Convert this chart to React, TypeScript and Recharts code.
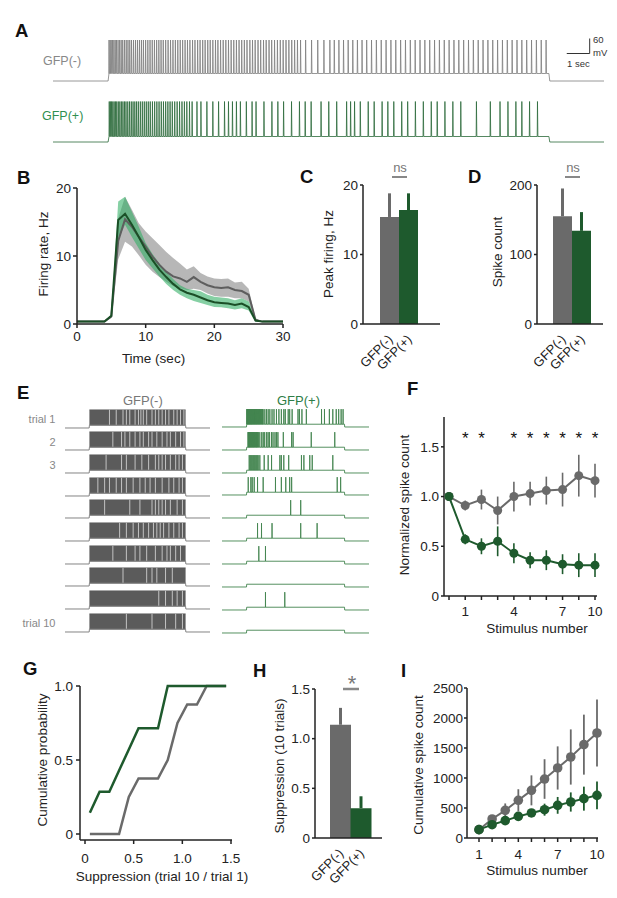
import React from 'react';
import {
  ComposedChart, LineChart, Line, Area, Bar, Cell, XAxis, YAxis, ErrorBar, Scatter, ReferenceLine,
} from 'recharts';

const FONT = '"Liberation Sans", Arial, Helvetica, sans-serif';
const GRAY = '#6a6a6a';
const GREEN = '#1e5a2d';
const AX = { stroke: '#222', strokeWidth: 1.5 };
const TICK = { fontSize: 13.5, fill: '#222', fontFamily: FONT };

// ---------------- Panel A : example traces (spike times, s) ----------------
const aGraySpikes = [
  5.03, 5.08, 5.13, 5.19, 5.25, 5.31, 5.37, 5.44, 5.51, 5.58, 5.65, 5.73, 5.81, 5.89, 5.97, 6.05, 6.14, 6.23, 6.32, 6.41,
  6.5, 6.59, 6.69, 6.79, 6.89, 6.99, 7.09, 7.19, 7.29, 7.39, 7.49, 7.6, 7.71, 7.82, 7.93, 8.04, 8.15, 8.26, 8.37, 8.48,
  8.59, 8.7, 8.82, 8.93, 9.05, 9.16, 9.28, 9.39, 9.51, 9.62, 9.74, 9.86, 9.97, 10.09, 10.21, 10.33, 10.45, 10.57, 10.69,
  10.81, 10.93, 11.05, 11.17, 11.29, 11.42, 11.54, 11.66, 11.79, 11.91, 12.04, 12.16, 12.29, 12.41, 12.54, 12.67, 12.8,
  12.93, 13.06, 13.19, 13.32, 13.45, 13.58, 13.72, 13.95, 14.22, 14.5, 14.78, 15.05, 15.25, 15.46, 15.67, 15.88, 16.09,
  16.3, 16.51, 16.72, 16.94, 17.16, 17.38, 17.6, 17.82, 18.04, 18.26, 18.48, 18.7, 18.92, 19.14, 19.36, 19.58, 19.8,
  20.02, 20.24, 20.46, 20.68, 20.9, 21.12, 21.34, 21.56, 21.78, 22.0, 22.22, 22.44, 22.66, 22.88, 23.1, 23.32, 23.54,
  23.76, 23.98, 24.2, 24.42, 24.64, 24.86,
];
const aGreenSpikes = [
  5.04, 5.09, 5.14, 5.2, 5.26, 5.32, 5.38, 5.45, 5.52, 5.59, 5.66, 5.73, 5.8, 5.88, 5.96, 6.04, 6.12, 6.2, 6.28, 6.36,
  6.45, 6.54, 6.63, 6.72, 6.81, 6.9, 7.0, 7.1, 7.2, 7.3, 7.4, 7.5, 7.6, 7.7, 7.8, 7.9, 8.01, 8.12, 8.23, 8.34, 8.45,
  8.56, 8.68, 8.8, 9.02, 9.2, 9.47, 9.74, 10.0, 10.27, 10.45, 10.63, 10.81, 10.99, 11.26, 11.52, 11.7, 12.06, 12.42,
  12.69, 12.95, 13.31, 13.67, 13.93, 14.2, 14.65, 15.0, 15.36, 15.81, 15.99, 16.17, 16.43, 16.79, 17.06, 17.42, 17.68,
  17.95, 18.31, 18.58, 18.93, 19.29, 19.65, 19.92, 20.27, 20.63, 20.99, 21.7, 22.33, 22.77, 23.13, 23.49, 23.76, 24.11,
  24.47,
];
const aGrayLevels = { base: -70, floor: -40, peak: 94 };
const aGreenLevels = { base: -70, floor: -48, peak: 92 };
const aWindow = [2.5, 27.5];
const stimOn = 5;
const stimOff = 25;

// ---------------- Panel B : firing rate ----------------
const bTime = [0, 1, 2, 3, 4, 5, 6, 7, 8, 9, 10, 11, 12, 13, 14, 15, 16, 17, 18, 19, 20, 21, 22, 23, 24, 25, 26, 27, 28, 29, 30];
const bGrayMean = [0.35, 0.35, 0.35, 0.35, 0.35, 1.1, 12.2, 15.4, 14.3, 12.8, 11.4, 9.9, 8.7, 7.7, 7.0, 6.7, 6.2, 6.9, 6.2, 5.7, 5.4, 5.3, 5.4, 5.0, 4.85, 4.3, 0.6, 0.35, 0.35, 0.35, 0.35];
const bGrayLow = [0.3, 0.3, 0.3, 0.3, 0.3, 0.9, 9.5, 12.1, 11.4, 10.1, 8.7, 7.7, 6.9, 6.2, 5.6, 5.3, 5.0, 5.2, 5.0, 4.5, 4.1, 4.0, 4.0, 3.8, 3.8, 3.3, 0.35, 0.3, 0.3, 0.3, 0.3];
const bGrayHigh = [0.4, 0.4, 0.4, 0.4, 0.4, 1.3, 15.5, 18.7, 16.8, 14.8, 13.6, 12.6, 11.6, 10.6, 9.7, 8.9, 8.0, 8.5, 7.5, 7.0, 6.7, 6.6, 6.7, 6.1, 6.2, 5.2, 0.8, 0.4, 0.4, 0.4, 0.4];
const bGreenMean = [0.35, 0.35, 0.35, 0.35, 0.35, 1.2, 15.3, 16.2, 14.6, 12.8, 10.9, 9.4, 8.0, 6.9, 5.9, 5.1, 4.6, 4.3, 3.9, 3.5, 3.2, 3.1, 3.0, 2.8, 3.0, 2.5, 0.5, 0.35, 0.35, 0.35, 0.35];
const bGreenLow = [0.3, 0.3, 0.3, 0.3, 0.3, 1.0, 12.5, 14.6, 12.8, 11.1, 9.4, 8.2, 7.0, 5.9, 5.0, 4.3, 3.8, 3.4, 3.1, 2.8, 2.5, 2.45, 2.3, 2.15, 2.3, 2.0, 0.3, 0.3, 0.3, 0.3, 0.3];
const bGreenHigh = [0.4, 0.4, 0.4, 0.4, 0.4, 1.4, 18.0, 18.7, 16.5, 14.3, 11.9, 10.3, 8.9, 7.7, 6.6, 5.7, 5.2, 5.0, 4.8, 4.3, 4.0, 3.9, 3.8, 3.5, 3.8, 3.3, 0.7, 0.4, 0.4, 0.4, 0.4];
const bXTicks = [0, 10, 20, 30];
const bYTicks = [0, 10, 20];

// ---------------- Panels C, D, H : bars ----------------
const groups = ['GFP(-)', 'GFP(+)'];
const peakValues = [15.4, 16.4];
const peakErrors = [3.4, 2.4];
const countValues = [155, 134];
const countErrors = [40, 27];
const suppValues = [1.14, 0.3];
const suppErrors = [0.17, 0.12];

// ---------------- Panel E : rasters ----------------
const grayTrialGaps = [
  [9.2, 10.6, 12.0, 12.7, 13.4, 14.5, 15.2, 15.7, 16.2, 16.9, 18.0, 18.7, 19.4, 20.1, 20.8, 21.5, 22.5, 23.2, 23.9, 24.6],
  [9.9, 11.7, 12.4, 13.4, 14.5, 15.5, 16.2, 17.3, 18.0, 19.0, 20.1, 21.1, 21.8, 22.9, 23.9, 24.6],
  [8.5, 11.7, 12.7, 14.5, 15.9, 17.3, 18.7, 19.4, 20.1, 20.8, 21.8, 22.9, 23.6, 24.3],
  [6.8, 8.2, 9.2, 10.6, 11.7, 12.7, 14.1, 15.5, 16.6, 17.6, 18.7, 20.1, 21.5, 22.5, 23.6, 24.3],
  [8.2, 13.4, 15.5, 18.0, 18.7, 19.4, 20.1, 20.8, 21.8, 23.2, 24.3],
  [11.3, 12.7, 14.1, 15.2, 16.2, 17.3, 18.3, 19.0, 19.7, 20.4, 21.5, 22.5, 23.6, 24.3],
  [9.9, 12.7, 14.5, 15.5, 16.9, 18.7, 20.1, 21.1, 21.8, 22.9, 23.9],
  [12.0, 16.9, 18.0, 19.0, 20.8, 22.2],
  [19.4, 20.8, 22.2, 23.2, 24.3],
  [12.7, 18.0, 20.8, 22.9, 24.3],
];
const greenTrialSpikes = [
  [5.05, 5.12, 5.19, 5.26, 5.33, 5.4, 5.48, 5.56, 5.64, 5.72, 5.8, 5.88, 5.96, 6.04, 6.13, 6.22, 6.31, 6.4, 6.5, 6.6,
    6.7, 6.8, 6.9, 7.0, 7.1, 7.2, 7.31, 7.42, 7.53, 7.64, 7.76, 7.88, 8.0, 8.12, 8.25, 8.38, 8.73, 9.07, 9.41, 9.75,
    10.2, 10.6, 11.1, 11.6, 12.1, 12.6, 12.9, 13.5, 13.8, 14.3, 15.5, 15.8, 16.3, 17.2, 20.3, 20.9, 21.9, 22.6, 23.3,
    23.8, 24.3, 24.7],
  [5.3, 5.38, 5.46, 5.54, 5.62, 5.7, 5.8, 5.9, 6.0, 6.1, 6.2, 6.3, 6.42, 6.54, 6.66, 6.78, 6.9, 7.02, 7.15, 7.28, 7.4,
    7.7, 8.1, 8.4, 8.7, 9.1, 9.4, 9.7, 10.1, 10.4, 10.8, 11.1, 11.4, 12.5, 14.2, 14.5, 18.2, 23.0],
  [5.54, 5.75, 5.95, 6.15, 6.36, 6.56, 6.76, 6.97, 7.17, 7.37, 7.71, 8.6, 9.41, 10.1, 11.8, 12.1, 12.6, 13.6, 16.2,
    16.7, 17.9, 18.4, 22.6],
  [5.34, 5.88, 6.15, 6.56, 7.24, 8.39, 10.9, 12.1, 13.0, 13.8, 14.2, 23.5, 24.2],
  [14.0, 16.05],
  [7.24, 8.05, 10.2, 16.05, 19.4],
  [7.5, 8.86],
  [],
  [8.86, 12.8],
  [],
];
const eLevels = { base: -70, floor: -48, peak: 75 };
const eGreenLevels = { base: -70, floor: -48, peak: 72 };
const eWindow = [0, 30];
const trialLabels = ['trial 1', '2', '3', '', '', '', '', '', '', 'trial 10'];

// ---------------- Panel F : normalized spike count ----------------
const fIdx = [0, 1, 2, 3, 4, 5, 6, 7, 8, 9];
const fTickLabels = ['', '1', '', '', '4', '', '', '7', '', '10'];
const fGray = [1.0, 0.91, 0.97, 0.86, 1.0, 1.03, 1.06, 1.07, 1.21, 1.16];
const fGrayErr = [0, 0.05, 0.1, 0.14, 0.15, 0.12, 0.14, 0.17, 0.21, 0.17];
const fGreen = [1.0, 0.57, 0.5, 0.55, 0.43, 0.36, 0.36, 0.32, 0.31, 0.31];
const fGreenErr = [0, 0.05, 0.08, 0.15, 0.1, 0.08, 0.1, 0.1, 0.12, 0.12];
const fSigIdx = [1, 2, 4, 5, 6, 7, 8, 9];
const fStarLevel = 1.62;

// ---------------- Panel G : cumulative distributions ----------------
const gX = [0.05, 0.15, 0.25, 0.35, 0.45, 0.55, 0.65, 0.75, 0.85, 0.95, 1.05, 1.15, 1.25, 1.35, 1.45];
const gGreen = [0.143, 0.286, 0.286, 0.429, 0.571, 0.714, 0.714, 0.714, 1, 1, 1, 1, 1, 1, 1];
const gGray = [0, 0, 0, 0, 0.25, 0.375, 0.375, 0.375, 0.5, 0.75, 0.875, 0.875, 1, 1, 1];

// ---------------- Panel I : cumulative spike count ----------------
const iStim = [1, 2, 3, 4, 5, 6, 7, 8, 9, 10];
const iGray = [139, 317, 461, 628, 794, 983, 1167, 1350, 1556, 1750];
const iGrayErr = [20, 60, 115, 185, 250, 330, 360, 460, 500, 560];
const iGreen = [139, 222, 289, 361, 417, 472, 544, 600, 656, 711];
const iGreenErr = [15, 30, 40, 50, 65, 100, 140, 160, 200, 230];

// ---------------- helpers ----------------
function buildTrace(spikes: number[], lv: any, t0: number, t1: number) {
  const pts: any[] = [{ t: t0, v: lv.base }, { t: stimOn, v: lv.base }, { t: stimOn + 0.04, v: lv.floor }];
  spikes.forEach((s) => {
    pts.push({ t: s, v: lv.floor }, { t: s + 0.012, v: lv.peak }, { t: s + 0.03, v: lv.floor });
  });
  pts.push({ t: stimOff, v: lv.floor }, { t: stimOff + 0.04, v: lv.base }, { t: t1, v: lv.base });
  return pts;
}
function buildBlock(lv: any, t0: number, t1: number) {
  return [
    { t: t0, v: lv.base }, { t: stimOn, v: lv.base },
    { t: stimOn + 0.05, v: lv.floor, blk: [lv.floor, lv.peak] },
    { t: stimOff - 0.05, v: lv.floor, blk: [lv.floor, lv.peak] },
    { t: stimOff, v: lv.base }, { t: t1, v: lv.base },
  ];
}
function place(px0: number, px1: number, py0: number, py1: number, yW: number, xH: number, mt: number, mr: number) {
  return {
    left: px0 - yW, top: py0 - mt, width: yW + (px1 - px0) + mr, height: mt + (py1 - py0) + xH,
    margin: { top: mt, right: mr, bottom: 0, left: 0 },
  };
}
const fmt1 = (v: number) => (v === 0 ? '0' : v.toFixed(1));

const RotTick = (props: any) => {
  const { x, y, payload } = props;
  const ax = x + 1;
  const ay = y + 13;
  return (
    <text x={ax} y={ay} transform={`rotate(-45 ${ax} ${ay})`} textAnchor="end" dominantBaseline="central"
      fontSize={13} fill="#222" fontFamily={FONT}>{payload.value}</text>
  );
};
const Star = (p: any) => (
  <text x={p.cx} y={p.cy + 9.5} textAnchor="middle" fontSize={17} fill="#111" fontFamily={FONT}>*</text>
);

function barRows(values: number[], errors: number[]) {
  return groups.map((name, i) => ({
    name,
    value: values[i],
    errGray: i === 0 ? [0, errors[i]] : undefined,
    errGreen: i === 1 ? [0, errors[i]] : undefined,
  }));
}

function BarPanel({ box, rows, domain, ticks, padding, fmt }: any) {
  return (
    <div style={{ position: 'absolute', left: box.left, top: box.top }}>
      <ComposedChart width={box.width} height={box.height} margin={box.margin} data={rows} barCategoryGap={0}>
        <XAxis dataKey="name" type="category" padding={padding} axisLine={AX} tickLine={false} tickSize={0}
          tickMargin={0} interval={0} tick={<RotTick />} height={55} />
        <YAxis type="number" domain={domain} ticks={ticks} allowDataOverflow axisLine={AX} tickLine={AX}
          tickSize={3} tickMargin={2} tick={TICK} width={36} tickFormatter={fmt} />
        <Bar dataKey="value" isAnimationActive={false}>
          {rows.map((r: any, i: number) => <Cell key={r.name} fill={i === 0 ? GRAY : GREEN} />)}
          <ErrorBar dataKey="errGray" width={0} stroke={GRAY} strokeWidth={3} isAnimationActive={false} />
          <ErrorBar dataKey="errGreen" width={0} stroke={GREEN} strokeWidth={3} isAnimationActive={false} />
        </Bar>
      </ComposedChart>
    </div>
  );
}

function VText({ x, y, children, size = 13.5 }: any) {
  return (
    <text x={x} y={y} transform={`rotate(-90 ${x} ${y})`} textAnchor="middle" dominantBaseline="central"
      fontSize={size} fill="#222" fontFamily={FONT}>{children}</text>
  );
}

export default function App() {
  const aGrayTrace = buildTrace(aGraySpikes, aGrayLevels, aWindow[0], aWindow[1]);
  const aGreenTrace = buildTrace(aGreenSpikes, aGreenLevels, aWindow[0], aWindow[1]);

  const bRows = bTime.map((t, i) => ({
    t, gray: bGrayMean[i], green: bGreenMean[i],
    grayBand: [bGrayLow[i], bGrayHigh[i]], greenBand: [bGreenLow[i], bGreenHigh[i]],
  }));
  const fRows = fIdx.map((x, i) => ({ x, gray: fGray[i], green: fGreen[i], grayErr: fGrayErr[i], greenErr: fGreenErr[i] }));
  const fStars = fSigIdx.map((x) => ({ x, y: fStarLevel }));
  const gRows = gX.map((x, i) => ({ x, green: gGreen[i], gray: gGray[i] }));
  const iRows = iStim.map((x, i) => ({ x, gray: iGray[i], green: iGreen[i], grayErr: iGrayErr[i], greenErr: iGreenErr[i] }));

  const B = place(77, 283, 188.3, 324.3, 40, 25, 8, 12);
  const C = place(363, 440, 185, 324, 36, 55, 8, 6);
  const D = place(537, 603, 185, 324, 36, 55, 8, 6);
  const F = place(444, 597, 417, 596, 40, 25, 6, 8);
  const G = place(80, 232, 686, 840, 40, 25, 8, 10);
  const H = place(315, 382, 689, 838, 36, 55, 8, 6);
  const I = place(467, 598, 688, 838, 44, 25, 8, 10);

  const letters = [
    ['A', 15, 37], ['B', 17, 184], ['C', 300, 183], ['D', 468, 183], ['E', 17, 399],
    ['F', 407, 395], ['G', 23, 675], ['H', 253, 677], ['I', 401, 677],
  ];

  return (
    <div style={{ position: 'absolute', left: 0, top: 0, width: 617, height: 898, background: '#fff', fontFamily: FONT, overflow: 'hidden' }}>
      {/* Panel A */}
      <div style={{ position: 'absolute', left: 53, top: 30.5 }}>
        <LineChart width={551} height={60} data={aGrayTrace} margin={{ top: 0, right: 0, bottom: 0, left: 0 }}>
          <XAxis type="number" dataKey="t" domain={aWindow} hide allowDataOverflow />
          <YAxis type="number" domain={[-110, 130]} hide allowDataOverflow />
          <Line dataKey="v" stroke="#7d7d7d" strokeWidth={0.8} dot={false} isAnimationActive={false} />
          <ReferenceLine segment={[{ x: 25.81, y: 40 }, { x: 26.85, y: 40 }]} stroke="#333" strokeWidth={1} />
          <ReferenceLine segment={[{ x: 26.85, y: 40 }, { x: 26.85, y: 100 }]} stroke="#333" strokeWidth={1} />
        </LineChart>
      </div>
      <div style={{ position: 'absolute', left: 53, top: 91.5 }}>
        <LineChart width={551} height={60} data={aGreenTrace} margin={{ top: 0, right: 0, bottom: 0, left: 0 }}>
          <XAxis type="number" dataKey="t" domain={aWindow} hide allowDataOverflow />
          <YAxis type="number" domain={[-110, 130]} hide allowDataOverflow />
          <Line dataKey="v" stroke="#2b6a3a" strokeWidth={0.8} dot={false} isAnimationActive={false} />
        </LineChart>
      </div>

      {/* Panel B */}
      <div style={{ position: 'absolute', left: B.left, top: B.top }}>
        <ComposedChart width={B.width} height={B.height} margin={B.margin} data={bRows}>
          <XAxis type="number" dataKey="t" domain={[0, 30]} ticks={bXTicks} axisLine={AX} tickLine={AX}
            tickSize={4} tickMargin={3.5} tick={TICK} height={25} />
          <YAxis type="number" domain={[0, 20]} ticks={bYTicks} axisLine={AX} tickLine={AX}
            tickSize={4} tickMargin={2} tick={TICK} width={40} />
          <Area dataKey="grayBand" stroke="none" fill="#8a8a8a" fillOpacity={0.62} isAnimationActive={false} />
          <Area dataKey="greenBand" stroke="none" fill="#2fae62" fillOpacity={0.58} isAnimationActive={false} />
          <Line dataKey="gray" stroke="#5e5e5e" strokeWidth={2} dot={false} isAnimationActive={false} />
          <Line dataKey="green" stroke="#1b4f27" strokeWidth={2} dot={false} isAnimationActive={false} />
        </ComposedChart>
      </div>

      {/* Panels C, D */}
      <BarPanel box={C} rows={barRows(peakValues, peakErrors)} domain={[0, 20]} ticks={[0, 10, 20]} padding={{ left: 17, right: 22 }} />
      <BarPanel box={D} rows={barRows(countValues, countErrors)} domain={[0, 200]} ticks={[0, 100, 200]} padding={{ left: 16, right: 12 }} />

      {/* Panel E */}
      {grayTrialGaps.map((gaps, i) => (
        <div key={`g${i}`} style={{ position: 'absolute', left: 65, top: 427.7 + i * 22.67 - 19 }}>
          <ComposedChart width={145} height={21} data={buildBlock(eLevels, eWindow[0], eWindow[1])} margin={{ top: 0, right: 0, bottom: 0, left: 0 }}>
            <XAxis type="number" dataKey="t" domain={eWindow} hide allowDataOverflow />
            <YAxis type="number" domain={[-86, 81]} hide allowDataOverflow />
            <Area dataKey="blk" stroke="#5b5b5b" strokeWidth={0.5} fill="#5b5b5b" fillOpacity={1} isAnimationActive={false} />
            <Line dataKey="v" stroke="#858585" strokeWidth={1} dot={false} isAnimationActive={false} />
            {gaps.map((t) => (
              <ReferenceLine key={t} segment={[{ x: t, y: eLevels.floor + 4 }, { x: t, y: eLevels.peak }]} stroke="#cfcfcf" strokeWidth={0.9} />
            ))}
          </ComposedChart>
        </div>
      ))}
      {greenTrialSpikes.map((sp, i) => (
        <div key={`e${i}`} style={{ position: 'absolute', left: 221.5, top: 426.7 + i * 22.93 - 19 }}>
          <LineChart width={147} height={21} data={buildTrace(sp, eGreenLevels, eWindow[0], eWindow[1])} margin={{ top: 0, right: 0, bottom: 0, left: 0 }}>
            <XAxis type="number" dataKey="t" domain={eWindow} hide allowDataOverflow />
            <YAxis type="number" domain={[-86, 81]} hide allowDataOverflow />
            <Line dataKey="v" stroke="#43844f" strokeWidth={0.9} dot={false} isAnimationActive={false} />
          </LineChart>
        </div>
      ))}

      {/* Panel F */}
      <div style={{ position: 'absolute', left: F.left, top: F.top }}>
        <ComposedChart width={F.width} height={F.height} margin={F.margin} data={fRows}>
          <XAxis type="number" dataKey="x" domain={[0, 9]} ticks={fIdx} tickFormatter={(v: number) => fTickLabels[v]}
            padding={{ left: 5, right: 2 }} axisLine={AX} tickLine={AX} tickSize={4} tickMargin={6} tick={TICK} height={25} interval={0} />
          <YAxis type="number" domain={[0, 1.8]} ticks={[0, 0.5, 1, 1.5]} tickFormatter={fmt1}
            axisLine={AX} tickLine={AX} tickSize={3} tickMargin={2} tick={TICK} width={40} />
          <Line dataKey="gray" stroke={GRAY} strokeWidth={2} dot={{ r: 4.5, fill: GRAY, stroke: GRAY, strokeWidth: 0 }} isAnimationActive={false}>
            <ErrorBar dataKey="grayErr" width={0} stroke={GRAY} strokeWidth={1.6} isAnimationActive={false} />
          </Line>
          <Line dataKey="green" stroke={GREEN} strokeWidth={2} dot={{ r: 4.5, fill: GREEN, stroke: GREEN, strokeWidth: 0 }} isAnimationActive={false}>
            <ErrorBar dataKey="greenErr" width={0} stroke={GREEN} strokeWidth={1.6} isAnimationActive={false} />
          </Line>
          <Scatter data={fStars} dataKey="y" shape={Star} isAnimationActive={false} />
        </ComposedChart>
      </div>

      {/* Panel G */}
      <div style={{ position: 'absolute', left: G.left, top: G.top }}>
        <ComposedChart width={G.width} height={G.height} margin={G.margin} data={gRows}>
          <XAxis type="number" dataKey="x" domain={[0, 1.5]} ticks={[0, 0.5, 1, 1.5]} tickFormatter={fmt1}
            padding={{ left: 5, right: 1 }} axisLine={AX} tickLine={AX} tickSize={4} tickMargin={9} tick={TICK} height={25} />
          <YAxis type="number" domain={[0, 1]} ticks={[0, 0.5, 1]} tickFormatter={fmt1} padding={{ top: 0, bottom: 6 }}
            axisLine={AX} tickLine={AX} tickSize={4} tickMargin={3} tick={TICK} width={40} />
          <Line dataKey="gray" stroke={GRAY} strokeWidth={2.5} dot={false} isAnimationActive={false} />
          <Line dataKey="green" stroke={GREEN} strokeWidth={2.5} dot={false} isAnimationActive={false} />
        </ComposedChart>
      </div>

      {/* Panel H */}
      <BarPanel box={H} rows={barRows(suppValues, suppErrors)} domain={[0, 1.5]} ticks={[0, 0.5, 1, 1.5]} padding={{ left: 15, right: 11 }} fmt={fmt1} />

      {/* Panel I */}
      <div style={{ position: 'absolute', left: I.left, top: I.top }}>
        <ComposedChart width={I.width} height={I.height} margin={I.margin} data={iRows}>
          <XAxis type="number" dataKey="x" domain={[1, 10]} ticks={iStim}
            tickFormatter={(v: number) => ([1, 4, 7, 10].includes(v) ? String(v) : '')}
            padding={{ left: 12, right: 1 }} axisLine={AX} tickLine={AX} tickSize={4} tickMargin={7} tick={TICK} height={25} interval={0} />
          <YAxis type="number" domain={[0, 2500]} ticks={[0, 500, 1000, 1500, 2000, 2500]}
            axisLine={AX} tickLine={AX} tickSize={3} tickMargin={1} tick={TICK} width={44} />
          <Line dataKey="gray" stroke={GRAY} strokeWidth={2} dot={{ r: 4.8, fill: GRAY, stroke: GRAY, strokeWidth: 0 }} isAnimationActive={false}>
            <ErrorBar dataKey="grayErr" width={0} stroke={GRAY} strokeWidth={1.8} isAnimationActive={false} />
          </Line>
          <Line dataKey="green" stroke={GREEN} strokeWidth={2} dot={{ r: 4.8, fill: GREEN, stroke: GREEN, strokeWidth: 0 }} isAnimationActive={false}>
            <ErrorBar dataKey="greenErr" width={0} stroke={GREEN} strokeWidth={1.8} isAnimationActive={false} />
          </Line>
        </ComposedChart>
      </div>

      {/* Text overlay */}
      <svg width={617} height={898} style={{ position: 'absolute', left: 0, top: 0, pointerEvents: 'none' }}>
        {letters.map(([l, x, y]) => (
          <text key={l as string} x={x as number} y={y as number} fontSize={18.5} fontWeight="bold" fill="#111" fontFamily={FONT}>{l}</text>
        ))}
        {/* A */}
        <text x={43} y={64.5} fontSize={12.5} fill="#888" fontFamily={FONT}>GFP(-)</text>
        <text x={42} y={120} fontSize={12.5} fill="#2f8f4f" fontFamily={FONT}>GFP(+)</text>
        <text x={593} y={43} fontSize={9.5} fill="#333" fontFamily={FONT}>60</text>
        <text x={593} y={56} fontSize={9.5} fill="#333" fontFamily={FONT}>mV</text>
        <text x={567} y={67} fontSize={9.5} fill="#333" fontFamily={FONT}>1 sec</text>
        {/* B */}
        <VText x={43} y={254}>Firing rate, Hz</VText>
        <text x={153.5} y={363} textAnchor="middle" fontSize={13.5} fill="#222" fontFamily={FONT}>Time (sec)</text>
        {/* C, D */}
        <VText x={328} y={254}>Peak firing, Hz</VText>
        <text x={400} y={172} textAnchor="middle" fontSize={13} fill="#777" fontFamily={FONT}>ns</text>
        <line x1={392} x2={407} y1={177} y2={177} stroke="#888" strokeWidth={2} />
        <VText x={497} y={252}>Spike count</VText>
        <text x={573} y={172} textAnchor="middle" fontSize={13} fill="#777" fontFamily={FONT}>ns</text>
        <line x1={565} x2={580} y1={177} y2={177} stroke="#888" strokeWidth={2} />
        {/* E */}
        <text x={123} y={405} fontSize={13} fill="#777" fontFamily={FONT}>GFP(-)</text>
        <text x={277} y={405} fontSize={13} fill="#2e7d46" fontFamily={FONT}>GFP(+)</text>
        {trialLabels.map((t, i) => (t ? (
          <text key={i} x={55.5} y={427.7 + i * 22.67 - 4.5} textAnchor="end" fontSize={11} fill="#888" fontFamily={FONT}>{t}</text>
        ) : null))}
        {/* F */}
        <VText x={404} y={505}>Normalized spike count</VText>
        <text x={537} y={633} textAnchor="middle" fontSize={13.5} fill="#222" fontFamily={FONT}>Stimulus number</text>
        {/* G */}
        <VText x={42} y={760}>Cumulative probability</VText>
        <text x={162} y={881} textAnchor="middle" fontSize={13.5} fill="#222" fontFamily={FONT}>Suppression (trial 10 / trial 1)</text>
        {/* H */}
        <VText x={279} y={766}>Suppression (10 trials)</VText>
        <text x={352} y={690.5} textAnchor="middle" fontSize={22} fill="#777" fontFamily={FONT}>*</text>
        <line x1={343} x2={359} y1={689} y2={689} stroke="#888" strokeWidth={2.5} />
        {/* I */}
        <VText x={418} y={765}>Cumulative spike count</VText>
        <text x={537} y={875} textAnchor="middle" fontSize={13.5} fill="#222" fontFamily={FONT}>Stimulus number</text>
      </svg>
    </div>
  );
}
